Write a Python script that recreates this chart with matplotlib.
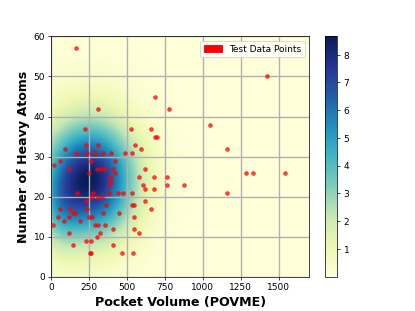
import numpy as np
import matplotlib.pyplot as plt
import matplotlib.patches as mpatches

# test points
pocket_volume = [165, 687, 310, 775, 1420, 1045, 1160, 222, 527, 660, 687, 700,
                 230, 309, 553, 92, 590, 1286, 1329, 1540, 875, 1160,
                 163, 237, 290, 342, 395, 483, 533,
                 59, 263, 417, 16,
                 118, 303, 329, 355, 408, 619,
                 246, 417, 388, 578, 680, 763, 397,
                 382, 603, 763, 619, 680,
                 171, 272, 378, 441, 476, 529,
                 270, 307, 334, 230, 621,
                 362, 534, 546, 59, 121, 235, 656,
                 143, 154, 340, 445,
                 44, 118, 250, 270, 546, 84, 189,
                 13, 290, 307, 353, 410, 546,
                 118, 318, 577, 303, 231, 263, 141, 410,
                 252, 263, 467, 538]
heavy_atoms = [57, 45, 42, 42, 50, 38, 32, 37, 37, 37, 35, 35,
               33, 33, 33, 32, 32, 26, 26, 26, 23, 21,
               31, 31, 31, 31, 31, 31, 31,
               29, 29, 29, 28,
               27, 27, 27, 27, 27, 27,
               26, 26, 25, 25, 25, 25, 24,
               23, 23, 23, 22, 22,
               21, 21, 21, 21, 21, 21,
               20, 20, 20, 19, 19,
               18, 18, 18, 17, 17, 17, 17,
               16, 16, 16, 16,
               15, 15, 15, 15, 15, 14, 14,
               13, 13, 13, 13, 12, 12,
               11, 11, 11, 10, 9, 9, 8, 8,
               6, 6, 6, 6]

# background density: blobs
blob_x = [255, 60, 200]
blob_y = [24, 16, 30]
blob_sx = [200, 90, 260]
blob_sy = [9.5, 7, 14]
blob_w = [1.0, 0.2, 0.08]
dens_max = 8.66

xs = np.linspace(0, 1700, 400)
ys = np.linspace(0, 60, 300)
X, Y = np.meshgrid(xs, ys)
Z = np.zeros_like(X)
for cx, cy, sx, sy, w in zip(blob_x, blob_y, blob_sx, blob_sy, blob_w):
    Z += w * np.exp(-0.5 * (((X - cx) / sx) ** 2 + ((Y - cy) / sy) ** 2))
Z = Z / Z.max() * dens_max

fig = plt.figure(figsize=(6.4, 4.8), dpi=64.85)
ax = fig.add_axes([0.1236, 0.1103, 0.621, 0.7717])
cax = fig.add_axes([0.783, 0.1103, 0.0297, 0.7717])

im = ax.imshow(Z, origin='lower', extent=[0, 1700, 0, 60], aspect='auto', cmap='YlGnBu')
ax.scatter(pocket_volume, heavy_atoms, color='red', s=16, alpha=0.7, zorder=3)
ax.grid(True, linewidth=1.5)
ax.set_xlim(0, 1700)
ax.set_ylim(0, 60)
ax.set_xticks(range(0, 1501, 250))

ax.set_xlabel('Pocket Volume (POVME)', fontsize=14, fontweight='bold')
ax.set_ylabel('Number of Heavy Atoms', fontsize=14, fontweight='bold')
ax.legend(handles=[mpatches.Patch(color='red', label='Test Data Points')], loc='upper right')

cb = fig.colorbar(im, cax=cax)
cb.set_ticks(range(1, 9))

fig.savefig('out.png', dpi=64.85)
